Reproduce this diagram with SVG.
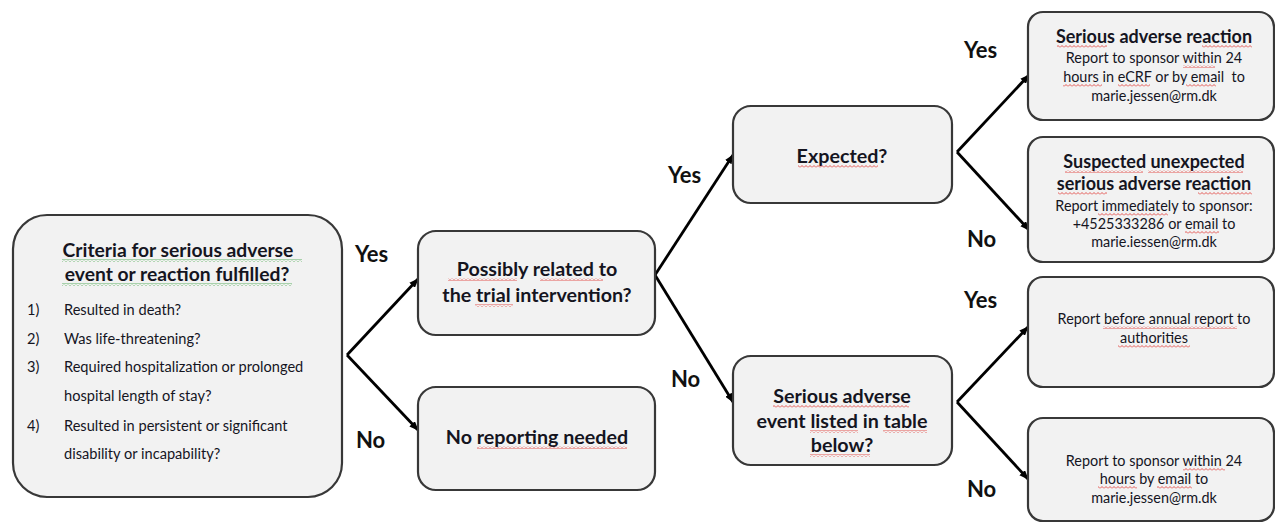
<svg xmlns="http://www.w3.org/2000/svg" width="1275" height="523" viewBox="0 0 1275 523">
<defs>
<style>
.box{fill:#f2f2f2;stroke:#383838;stroke-width:2.2}
.t{font-family:Lato,"Open Sans","Liberation Sans",sans-serif;fill:#15151f}
.h{font-weight:bold;font-size:19.7px;text-anchor:middle}
.h2{font-weight:bold;font-size:18px;text-anchor:middle}
.s{font-size:14.4px;text-anchor:middle}
.li{font-size:14.6px}
.lab{font-family:Lato,"Open Sans","Liberation Sans",sans-serif;font-weight:bold;font-size:22px;fill:#111}
.c{fill:none;stroke:#000;stroke-width:2.8}
.red{fill:url(#wr)}
.grn{fill:url(#wg)}
</style>
<marker id="ah" viewBox="0 0 10 8" refX="9" refY="4" markerWidth="3.4" markerHeight="2.8" orient="auto" markerUnits="strokeWidth">
<path d="M0,0 L10,4 L0,8 z" fill="#000"/>
</marker>
<pattern id="wr" width="4" height="3" patternUnits="userSpaceOnUse">
<path d="M0,2.5 L2,0.5 L4,2.5" fill="none" stroke="#e0302a" stroke-width="0.8"/>
</pattern>
<pattern id="wg" width="4" height="3" patternUnits="userSpaceOnUse">
<path d="M0,2.5 L2,0.5 L4,2.5" fill="none" stroke="#3aa040" stroke-width="0.8"/>
</pattern>
</defs>
<rect width="1275" height="523" fill="#fff"/>

<g id="connectors">
<line class="c" x1="347" y1="355" x2="418" y2="279" marker-end="url(#ah)"/>
<line class="c" x1="347" y1="355" x2="418" y2="430" marker-end="url(#ah)"/>
<line class="c" x1="655" y1="275" x2="733" y2="155" marker-end="url(#ah)"/>
<line class="c" x1="655" y1="275" x2="733" y2="402" marker-end="url(#ah)"/>
<line class="c" x1="957" y1="152" x2="1029" y2="75" marker-end="url(#ah)"/>
<line class="c" x1="957" y1="152" x2="1029" y2="230" marker-end="url(#ah)"/>
<line class="c" x1="957" y1="402" x2="1028" y2="327" marker-end="url(#ah)"/>
<line class="c" x1="957" y1="402" x2="1028" y2="479" marker-end="url(#ah)"/>
<text class="lab" x="355" y="262">Yes</text>
<text class="lab" x="356" y="448">No</text>
<text class="lab" x="668" y="183">Yes</text>
<text class="lab" x="671" y="387">No</text>
<text class="lab" x="964" y="58">Yes</text>
<text class="lab" x="967" y="247">No</text>
<text class="lab" x="964" y="308">Yes</text>
<text class="lab" x="967" y="497">No</text>
</g>

<g id="node-criteria">
<rect class="box" x="13" y="215" width="329" height="282" rx="34"/>
<text class="t h" x="178" y="257" style="font-size:19.3px">Criteria for serious adverse</text>
<text class="t h" x="177" y="281" style="font-size:19.3px">event or reaction fulfilled?</text>
<rect class="grn" x="62" y="259" width="240" height="3"/>
<rect class="grn" x="62" y="283" width="230" height="3"/>
<text class="t li" x="27" y="315">1)</text><text class="t li" x="64" y="315">Resulted in death?</text>
<text class="t li" x="27" y="344">2)</text><text class="t li" x="64" y="344">Was life-threatening?</text>
<text class="t li" x="27" y="372">3)</text><text class="t li" x="64" y="372">Required hospitalization or prolonged</text>
<text class="t li" x="64" y="401">hospital length of stay?</text>
<text class="t li" x="27" y="431">4)</text><text class="t li" x="64" y="431">Resulted in persistent or significant</text>
<text class="t li" x="64" y="459">disability or incapability?</text>
</g>

<g id="node-related">
<rect class="box" x="418" y="231" width="237" height="104" rx="18"/>
<text class="t h" x="537" y="276">Possibly related to</text>
<text class="t h" x="537" y="302">the trial intervention?</text>
<rect class="red" x="448" y="278" width="69" height="3"/>
<rect class="red" x="540" y="278" width="63" height="3"/>
<rect class="red" x="475" y="304" width="38" height="3"/>
</g>

<g id="node-noreport">
<rect class="box" x="418" y="387" width="237" height="103" rx="18"/>
<text class="t h" x="537" y="444">No reporting needed</text>
<rect class="red" x="477" y="446" width="150" height="3"/>
</g>

<g id="node-expected">
<rect class="box" x="733" y="106" width="219" height="97" rx="18"/>
<text class="t h" x="842" y="163">Expected?</text>
<rect class="red" x="798" y="165" width="80" height="3"/>
</g>

<g id="node-sae">
<rect class="box" x="733" y="356" width="219" height="109" rx="18"/>
<text class="t h" x="842" y="403">Serious adverse</text>
<text class="t h" x="842" y="428">event listed in table</text>
<text class="t h" x="842" y="452">below?</text>
<rect class="red" x="773" y="405" width="136" height="3"/>
<rect class="red" x="810" y="430" width="48" height="3"/>
<rect class="red" x="883" y="430" width="44" height="3"/>
<rect class="red" x="810" y="454" width="60" height="3"/>
</g>

<g id="node-sar">
<rect class="box" x="1028" y="12" width="246" height="108" rx="15"/>
<text class="t h2" x="1154" y="43">Serious adverse reaction</text>
<text class="t s" x="1154" y="63">Report to sponsor within 24</text>
<text class="t s" x="1154" y="82" xml:space="preserve">hours in eCRF or by email  to</text>
<text class="t s" x="1154" y="101">marie.jessen@rm.dk</text>
<rect class="red" x="1057" y="45" width="50" height="3"/>
<rect class="red" x="1202" y="45" width="50" height="3"/>
<rect class="red" x="1183" y="65" width="32" height="3"/>
<rect class="red" x="1063" y="84" width="39" height="3"/>
<rect class="red" x="1118" y="84" width="32" height="3"/>
<rect class="red" x="1186" y="84" width="30" height="3"/>
</g>

<g id="node-susar">
<rect class="box" x="1028" y="137" width="246" height="125" rx="15"/>
<text class="t h2" x="1154" y="168">Suspected unexpected</text>
<text class="t h2" x="1154" y="190">serious adverse reaction</text>
<text class="t s" x="1154" y="211">Report immediately to sponsor:</text>
<text class="t s" x="1154" y="229">+4525333286 or email to</text>
<text class="t s" x="1154" y="247">marie.iessen@rm.dk</text>
<rect class="red" x="1065" y="170" width="78" height="3"/>
<rect class="red" x="1148" y="170" width="95" height="3"/>
<rect class="red" x="1058" y="192" width="49" height="3"/>
<rect class="red" x="1198" y="192" width="54" height="3"/>
<rect class="red" x="1098" y="213" width="70" height="3"/>
<rect class="red" x="1185" y="231" width="34" height="3"/>
</g>

<g id="node-annual">
<rect class="box" x="1028" y="277" width="246" height="110" rx="15"/>
<text class="t s" x="1154" y="324">Report before annual report to</text>
<text class="t s" x="1154" y="343">authorities</text>
<rect class="red" x="1103" y="326" width="134" height="3"/>
<rect class="red" x="1118" y="345" width="72" height="3"/>
</g>

<g id="node-24h">
<rect class="box" x="1028" y="418" width="246" height="103" rx="15"/>
<text class="t s" x="1154" y="466">Report to sponsor within 24</text>
<text class="t s" x="1154" y="484">hours by email to</text>
<text class="t s" x="1154" y="503">marie.jessen@rm.dk</text>
<rect class="red" x="1183" y="468" width="42" height="3"/>
<rect class="red" x="1098" y="486" width="39" height="3"/>
<rect class="red" x="1157" y="486" width="35" height="3"/>
</g>
</svg>
